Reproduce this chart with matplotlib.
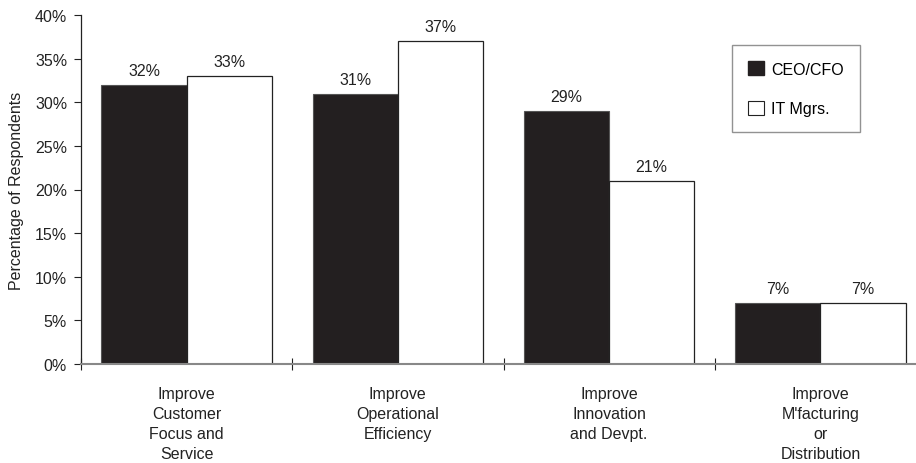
import numpy as np
import matplotlib.pyplot as plt
from matplotlib.patches import Patch

plt.rcParams['font.family'] = ['Liberation Sans', 'DejaVu Sans']

categories = ['Improve\nCustomer\nFocus and\nService',
              'Improve\nOperational\nEfficiency',
              'Improve\nInnovation\nand Devpt.',
              'Improve\nM\'facturing\nor\nDistribution']
ceo_cfo = [32, 31, 29, 7]
it_mgrs = [33, 37, 21, 7]
series_names = ['CEO/CFO', 'IT Mgrs.']

fs = 11.5
fig = plt.figure(figsize=(9.16, 4.64), dpi=100)
ax = fig.add_axes([81 / 916, 99 / 464, 845 / 916, 349 / 464])

x = np.arange(len(categories)) + 0.5
w = 0.403
dark = '#231f20'

b1 = ax.bar(x - w / 2, ceo_cfo, w, color=dark, edgecolor='#555555', linewidth=0.8)
b2 = ax.bar(x + w / 2, it_mgrs, w, color='white', edgecolor='#222222', linewidth=0.9)

for bars, vals in ((b1, ceo_cfo), (b2, it_mgrs)):
    for r, v in zip(bars, vals):
        ax.annotate(f'{v}%', (r.get_x() + r.get_width() / 2, v),
                    xytext=(0, 5), textcoords='offset points',
                    ha='center', va='bottom', fontsize=fs, color='#222222')

ax.set_xlim(0, 4)
ax.set_ylim(0, 40)
ax.set_yticks(np.arange(0, 41, 5))
ax.set_yticklabels([f'{t}%' for t in range(0, 41, 5)], fontsize=fs, color='#222222')
ax.set_xticks([0, 1, 2, 3])
ax.set_xticklabels([])
ax.set_xticks(x, minor=True)
ax.set_xticklabels(categories, minor=True, fontsize=fs, color='#222222', linespacing=1.42)
ax.tick_params(axis='x', which='minor', length=0, pad=16)
ax.tick_params(axis='x', which='major', direction='inout', length=8, width=0.8, color='#222222')
ax.tick_params(axis='y', direction='out', length=5, width=0.8, color='#222222', pad=5)

for s in ('top', 'right'):
    ax.spines[s].set_visible(False)
ax.spines['left'].set_color('#222222')
ax.spines['left'].set_linewidth(0.9)
ax.spines['bottom'].set_color('#888888')
ax.spines['bottom'].set_linewidth(1.5)

ax.set_ylabel('Percentage of Respondents', fontsize=fs, color='#222222', labelpad=8)

handles = [Patch(facecolor=dark, edgecolor=dark, label=series_names[0]),
           Patch(facecolor='white', edgecolor='#222222', linewidth=0.8, label=series_names[1])]
leg = fig.legend(handles=handles, loc='upper left', bbox_to_anchor=(732 / 916, 1 - 46 / 464),
                 frameon=True, fancybox=False, edgecolor='#777777', fontsize=fs,
                 handlelength=1.0, handleheight=1.0, handletextpad=0.45,
                 labelspacing=1.5, borderpad=1.0, borderaxespad=0)
leg.get_frame().set_linewidth(1.0)

fig.savefig('out.png', dpi=100)
